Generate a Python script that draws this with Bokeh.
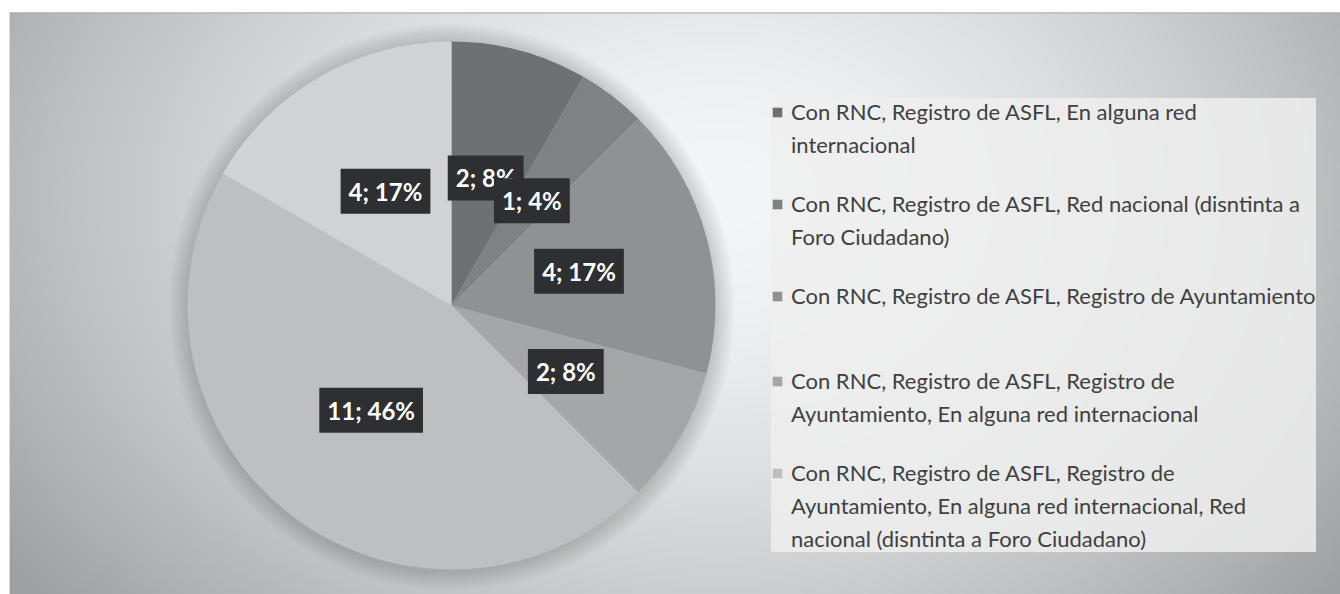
import numpy as np
from bokeh.plotting import figure
from bokeh.models import ColumnDataSource, Legend, LegendItem, Label, Range1d, Span
from bokeh.embed import file_html
from bokeh.resources import INLINE

# ---- data ----
values = [2, 1, 4, 2, 11, 4]
legend_labels = [
    "Con RNC, Registro de ASFL, En alguna red\ninternacional",
    "Con RNC, Registro de ASFL, Red nacional (disntinta a\nForo Ciudadano)",
    "Con RNC, Registro de ASFL, Registro de Ayuntamiento",
    "Con RNC, Registro de ASFL, Registro de\nAyuntamiento, En alguna red internacional",
    "Con RNC, Registro de ASFL, Registro de\nAyuntamiento, En alguna red internacional, Red\nnacional (disntinta a Foro Ciudadano)",
]
colors = ["#6e7174", "#7f8285", "#8f9294", "#a4a6a8", "#bdbfc0", "#d1d2d3"]

# ---- geometry derived from data ----
total = sum(values)
fracs = np.array(values) / total
cum = np.concatenate([[0.0], np.cumsum(fracs)])
start = np.pi / 2 - cum[:-1] * 2 * np.pi
end = np.pi / 2 - cum[1:] * 2 * np.pi
mid = (start + end) / 2
pct_labels = [f"{v}; {round(f * 100)}%" for v, f in zip(values, fracs)]

src = ColumnDataSource(dict(start=start, end=end, color=colors, value=values))

# layout (pixels)
W, H = 1340, 594
mb_left, mb_top = 9, 12
frame_w, frame_h = W - mb_left, H - mb_top
R = 264.0
cx_px, cy_px = 442.0, 293.0  # pie centre in frame pixels (from top-left)

x0, x1 = -cx_px / R, (frame_w - cx_px) / R
y0, y1 = -(frame_h - cy_px) / R, cy_px / R

p = figure(width=W, height=H, x_range=Range1d(x0, x1), y_range=Range1d(y0, y1),
           output_backend="svg", toolbar_location=None,
           x_axis_location=None, y_axis_location=None,
           min_border_left=mb_left, min_border_right=0,
           min_border_top=mb_top, min_border_bottom=0)
p.grid.visible = False
p.outline_line_color = None
p.border_fill_color = "white"
p.background_fill_color = "#d9dadb"

# background radial gradient
ny, nx = 146, 333
gx = np.linspace(0, frame_w, nx)[None, :]
gy = np.linspace(frame_h, 0, ny)[:, None]  # row 0 = bottom
gcx, gcy = 712.0, 180.0
rx = np.where(gx < gcx, 720.0, 640.0)
ry = np.where(gy < gcy, 470.0, 520.0)
d = np.sqrt(((gx - gcx) / rx) ** 2 + ((gy - gcy) / ry) ** 2)
c = np.clip(246 - 62 * d ** 1.6, 160, 250)
img = np.zeros((ny, nx), dtype=np.uint32)
view = img.view(dtype=np.uint8).reshape((ny, nx, 4))
view[:, :, 0] = np.clip(c - 2, 0, 255).astype(np.uint8)
view[:, :, 1] = c.astype(np.uint8)
view[:, :, 2] = np.clip(c + 1, 0, 255).astype(np.uint8)
view[:, :, 3] = 255
p.image_rgba(image=[img], x=x0, y=y0, dw=x1 - x0, dh=y1 - y0)

p.add_layout(Span(location=y1, dimension="width", line_color="#a9a9a9", line_width=2))

# soft pie shadow
for k in range(1, 9):
    p.circle(x=0.0, y=-0.006, radius=1.0 + 0.009 * k, fill_color="black",
             fill_alpha=0.018, line_color=None)

wedges = p.wedge(x=0, y=0, radius=1.0, start_angle="start", end_angle="end",
                 direction="clock", fill_color="color", line_color=None, source=src)

# data labels
for m, t in zip(mid, pct_labels):
    lx, ly = 0.5 * np.cos(m), 0.5 * np.sin(m)
    p.add_layout(Label(x=lx, y=ly, text=t, x_offset=3, y_offset=-3,
                       text_align="center", text_baseline="middle",
                       text_font="Lato", text_font_style="bold", text_font_size="24px",
                       text_alpha=0.0, background_fill_color="black",
                       background_fill_alpha=0.22, padding=8))
    p.add_layout(Label(x=lx, y=ly, text=t,
                       text_align="center", text_baseline="middle",
                       text_font="Lato", text_font_style="bold", text_font_size="24px",
                       text_color="white", background_fill_color="#2d2f32",
                       padding=8))

# legend: one row per text line, each entry padded to 3 rows (equal spacing)
items = []
for i, lab in enumerate(legend_labels):
    lines = lab.split("\n")
    lines += [" "] * (3 - len(lines))
    items.append(LegendItem(label=lines[0], renderers=[wedges], index=i))
    for ln in lines[1:]:
        items.append(LegendItem(label=ln, renderers=[]))

legend = Legend(items=items, location=(762, 42), margin=0, padding=10,
                background_fill_color="#efefef", background_fill_alpha=0.85,
                border_line_color=None,
                label_text_font="Lato", label_text_font_size="22px",
                label_text_color="#404040", label_height=20,
                glyph_width=12, glyph_height=12, label_standoff=8, spacing=6)
p.add_layout(legend)

open("out.html", "w").write(file_html(p, INLINE))
